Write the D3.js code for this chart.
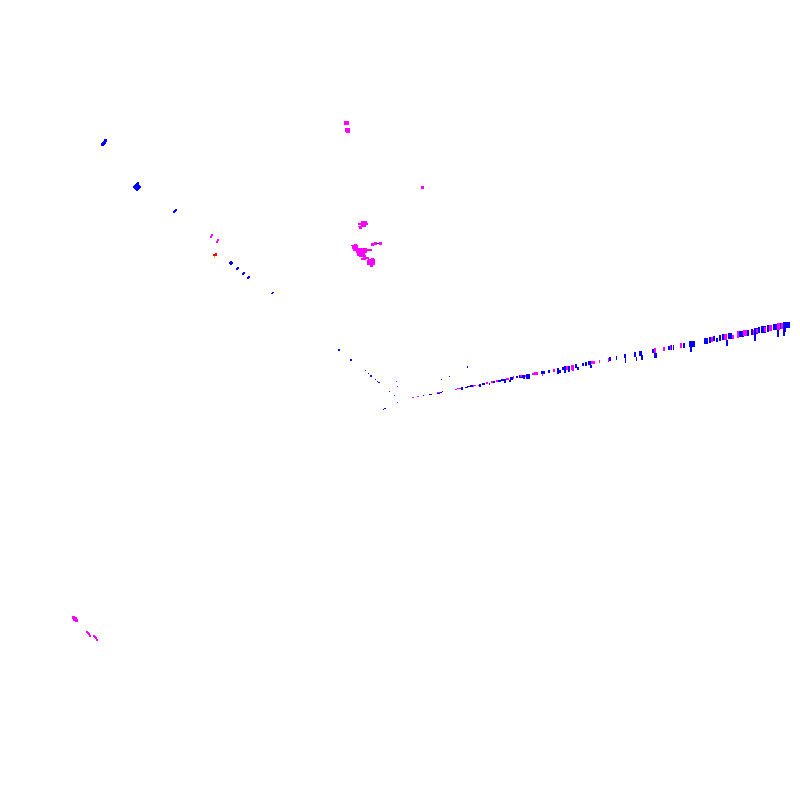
<!DOCTYPE html>
<html>
<head>
<meta charset="utf-8">
<script src="https://cdnjs.cloudflare.com/ajax/libs/d3/7.8.5/d3.min.js"></script>
<style>
  html, body { margin: 0; padding: 0; background: #fff; }
  svg { display: block; }
</style>
</head>
<body>
<div id="chart"></div>
<script>
// Each record is one extent: [xMin, xMax, yMin, yMax]
const blueUpperLeft = [
  [101, 104, 143, 146], [102, 105, 142, 145], [103, 106, 141, 144], [104, 107, 139, 142], [105, 106, 139, 140],
  [133, 141, 186, 188], [134, 140, 185, 189], [135, 139, 184, 190], [136, 138, 183, 191], [137, 139, 182, 184],
  [173, 175, 211, 213], [174, 176, 210, 212], [175, 177, 209, 211],
  [230, 232, 261, 265], [229, 233, 262, 264],
  [236, 238, 268, 270], [237, 239, 267, 269],
  [242, 244, 273, 275], [243, 245, 272, 274],
  [247, 249, 277, 279], [248, 250, 276, 278],
  [271, 273, 293, 294], [272, 274, 292, 293]
];

const magentaUpperLeft = [
  [210, 212, 236, 238], [211, 213, 234, 236],
  [216, 218, 241, 243], [217, 219, 239, 241]
];

const redPoints = [[213, 217, 254, 256], [215, 217, 253, 254], [365, 366, 370, 371]];
const orangePoints = [[214, 215, 256, 258]];
const yellowPoints = [[432, 433, 393, 394]];

const magentaClusters = [
  [344, 349, 121, 125], [345, 350, 128, 132], [346, 350, 131, 133], [421, 424, 186, 189],
  [361, 367, 221, 223], [358, 368, 223, 225], [361, 366, 225, 227], [359, 362, 226, 229], [358, 361, 226, 227],
  [354, 357, 244, 246], [351, 358, 245, 246], [352, 358, 246, 249], [353, 367, 248, 251], [356, 367, 251, 253],
  [367, 372, 249, 251], [357, 365, 253, 256], [359, 366, 255, 257], [363, 369, 257, 259], [361, 366, 258, 260],
  [367, 375, 260, 265], [368, 375, 259, 261], [371, 374, 258, 260], [370, 373, 265, 267],
  [371, 374, 243, 246], [374, 377, 242, 245], [379, 382, 242, 245],
  [72, 75, 616, 619], [73, 77, 617, 621], [75, 78, 619, 622],
  [86, 88, 631, 633], [87, 89, 632, 634], [88, 90, 633, 635], [89, 91, 635, 637],
  [93, 95, 635, 637], [94, 96, 636, 638], [95, 97, 637, 639], [96, 98, 639, 641]
];

const blueClusters = [[377, 379, 243, 244]];

const blueMiddle = [
  [338, 340, 349, 351], [350, 352, 359, 361], [368, 369, 373, 374], [370, 372, 375, 377],
  [375, 376, 379, 380], [377, 378, 381, 382], [378, 380, 382, 383], [389, 390, 391, 392],
  [383, 384, 409, 410], [384, 386, 408, 409], [423, 424, 395, 396], [429, 432, 394, 395],
  [437, 440, 393, 394], [440, 442, 392, 393], [442, 443, 391, 392],
  [441, 442, 379, 380], [449, 450, 376, 377], [467, 468, 366, 368]
];

const magentaMiddle = [
  [396, 397, 381, 382], [397, 398, 386, 387], [394, 395, 395, 396], [397, 398, 402, 403],
  [412, 414, 397, 398], [417, 419, 396, 397], [437, 440, 392, 393],
  [455, 457, 389, 390], [457, 462, 388, 389], [474, 476, 385, 386], [472, 474, 385, 387]
];

const blueRay = [
  [461, 463, 387, 390], [465, 468, 387, 388], [467, 473, 386, 387], [470, 473, 385, 387],
  [479, 481, 384, 387], [482, 485, 383, 385], [489, 490, 383, 385], [493, 495, 381, 383],
  [498, 501, 380, 382], [501, 506, 379, 381], [504, 506, 381, 383], [509, 511, 380, 382],
  [510, 513, 377, 380], [516, 518, 376, 378], [519, 525, 375, 378], [523, 525, 377, 379],
  [526, 530, 374, 379], [541, 545, 371, 374], [548, 550, 370, 373], [557, 559, 368, 374],
  [559, 561, 370, 373], [562, 564, 367, 370], [564, 566, 366, 373], [568, 570, 366, 372],
  [575, 577, 364, 368], [577, 579, 367, 370], [582, 584, 363, 366], [585, 587, 362, 366],
  [588, 591, 361, 365], [590, 592, 365, 368], [609, 611, 357, 361], [616, 617, 356, 360],
  [624, 626, 354, 358], [625, 626, 358, 363],
  [634, 636, 352, 357], [636, 637, 357, 361], [639, 642, 351, 356], [641, 643, 355, 360],
  [652, 654, 349, 353], [654, 657, 353, 358], [668, 670, 346, 350], [671, 672, 345, 350],
  [673, 674, 345, 350], [683, 685, 343, 348], [689, 695, 341, 347], [690, 692, 347, 352],
  [704, 708, 338, 344], [709, 711, 337, 343], [713, 715, 336, 341], [716, 718, 338, 342],
  [719, 721, 335, 341], [722, 724, 334, 340], [726, 728, 340, 346], [728, 732, 333, 339],
  [739, 744, 331, 337], [747, 749, 330, 336], [751, 753, 329, 335], [754, 758, 328, 334],
  [754, 756, 334, 341], [758, 760, 327, 333], [761, 766, 326, 333], [767, 769, 325, 332],
  [773, 777, 324, 330], [777, 779, 330, 337], [780, 782, 323, 329], [783, 785, 332, 336],
  [783, 786, 322, 332], [786, 790, 322, 328]
];

const magentaRay = [
  [478, 479, 385, 386], [486, 488, 382, 384], [491, 493, 381, 383], [496, 498, 380, 382],
  [506, 509, 378, 380], [513, 514, 376, 379], [520, 522, 375, 377], [525, 526, 375, 377],
  [532, 534, 373, 375], [534, 538, 372, 375], [542, 543, 374, 376], [553, 555, 369, 372],
  [566, 568, 366, 370], [571, 574, 365, 370], [572, 574, 368, 371], [591, 595, 361, 364],
  [599, 600, 360, 363], [608, 609, 358, 362],
  [654, 656, 348, 353], [663, 665, 347, 351], [670, 671, 345, 350], [680, 682, 343, 348],
  [711, 713, 337, 342], [724, 727, 334, 340], [732, 734, 335, 339], [737, 739, 331, 338],
  [743, 747, 330, 336], [753, 754, 330, 335], [756, 758, 329, 333], [764, 766, 327, 332],
  [769, 772, 325, 331], [777, 780, 323, 330], [781, 783, 323, 329]
];

// blue goes down first, magenta on top, same as the picture
const layers = [
  { color: '#0000ff', rows: blueUpperLeft },
  { color: '#ff00ff', rows: magentaUpperLeft },
  { color: '#ff0000', rows: redPoints },
  { color: '#ffa500', rows: orangePoints },
  { color: '#ffff00', rows: yellowPoints },
  { color: '#ff00ff', rows: magentaClusters },
  { color: '#0000ff', rows: blueClusters },
  { color: '#ff00ff', rows: magentaMiddle },
  { color: '#0000ff', rows: blueMiddle },
  { color: '#0000ff', rows: blueRay },
  { color: '#ff00ff', rows: magentaRay }
];

const width = 800;
const height = 800;

const x = d3.scaleLinear().domain([0, 800]).range([0, width]);
const y = d3.scaleLinear().domain([0, 800]).range([0, height]);

const svg = d3.select('#chart')
  .append('svg')
  .attr('width', width)
  .attr('height', height)
  .attr('viewBox', `0 0 ${width} ${height}`);

svg.selectAll('g')
  .data(layers)
  .join('g')
  .attr('fill', d => d.color)
  .selectAll('rect')
  .data(d => d.rows)
  .join('rect')
  .attr('x', d => x(d[0]))
  .attr('y', d => y(d[2]))
  .attr('width', d => x(d[1]) - x(d[0]))
  .attr('height', d => y(d[3]) - y(d[2]))
  .attr('shape-rendering', 'crispEdges');
</script>
</body>
</html>
